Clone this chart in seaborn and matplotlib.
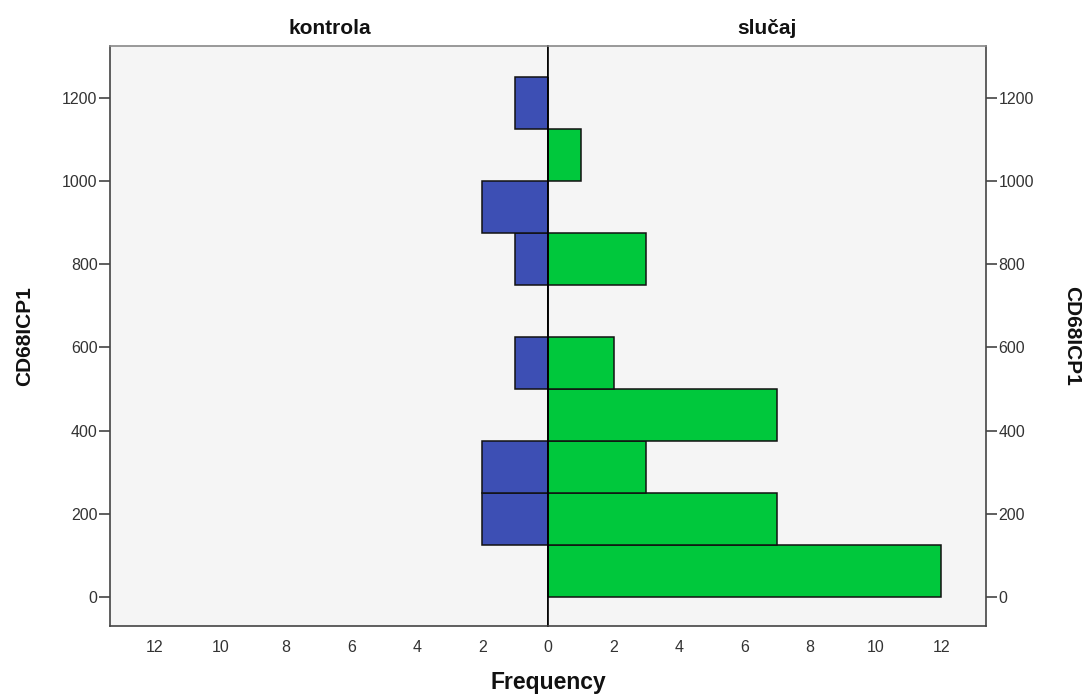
import numpy as np
import pandas as pd
import seaborn as sns
import matplotlib.pyplot as plt

# histogram bins of CD68ICP1 (width 125), counts per group
bin_edges = [0, 125, 250, 375, 500, 625, 750, 875, 1000, 1125, 1250]
kontrola_counts = [0, 2, 2, 0, 1, 0, 1, 2, 0, 1]
slucaj_counts = [12, 7, 3, 7, 2, 0, 3, 0, 1, 0]
freq_ticks = [0, 2, 4, 6, 8, 10, 12]
value_ticks = [0, 200, 400, 600, 800, 1000, 1200]

sns.set_style("white")
plt.rcParams['font.family'] = ['Liberation Sans', 'DejaVu Sans']

blue = '#3D4FB4'
green = '#00C83C'
bg = '#F5F5F5'

centers = [(a + b) / 2 for a, b in zip(bin_edges[:-1], bin_edges[1:])]
df = pd.DataFrame({'value': centers, 'kontrola': kontrola_counts, 'slucaj': slucaj_counts})

fig = plt.figure(figsize=(10.86, 6.95), dpi=100)
ax_l = fig.add_axes([110 / 1086, 1 - 626 / 695, 438 / 1086, 580 / 695])
ax_r = fig.add_axes([548 / 1086, 1 - 626 / 695, 438 / 1086, 580 / 695], sharey=ax_l)

sns.histplot(data=df, y='value', weights='kontrola', bins=bin_edges, ax=ax_l,
             color=blue, edgecolor='#111111', linewidth=1.1, alpha=1)
sns.histplot(data=df, y='value', weights='slucaj', bins=bin_edges, ax=ax_r,
             color=green, edgecolor='#111111', linewidth=1.1, alpha=1)

xmax = 13.37
ax_l.set_xlim(xmax, 0)
ax_r.set_xlim(0, xmax)
ax_l.set_ylim(-70, 1325)

for ax in (ax_l, ax_r):
    ax.set_facecolor(bg)
    ax.set_xticks(freq_ticks)
    ax.set_xlabel('')
    ax.set_ylabel('')
    for s in ax.spines.values():
        s.set_color('#444444')
        s.set_linewidth(1.2)
    ax.spines['top'].set_color('#888888')
    ax.tick_params(axis='both', direction='out', length=8, width=1.2,
                   color='#444444', labelsize=11.5, labelcolor='#333333', pad=1)
    ax.tick_params(axis='x', length=7, pad=3)

ax_l.set_xticklabels([''] + [str(t) for t in freq_ticks[1:]])
ax_r.set_xticklabels([str(t) for t in freq_ticks])
ax_l.set_yticks(value_ticks)
ax_l.set_yticklabels([str(t) for t in value_ticks])
ax_l.tick_params(axis='y', left=True, labelleft=True)
ax_r.tick_params(axis='y', left=False, labelleft=False, right=True, labelright=True)
ax_l.spines['right'].set_color('black')
ax_r.spines['left'].set_color('black')

fig.text(330 / 1086, 1 - 28 / 695, 'kontrola', ha='center', va='center',
         fontsize=15, fontweight='bold', color='#111111')
fig.text(767 / 1086, 1 - 28 / 695, 'slučaj', ha='center', va='center',
         fontsize=15, fontweight='bold', color='#111111')
fig.text(25 / 1086, 1 - 336 / 695, 'CD68ICP1', ha='center', va='center',
         rotation=90, fontsize=15, fontweight='bold', color='#111111')
fig.text(1072 / 1086, 1 - 336 / 695, 'CD68ICP1', ha='center', va='center',
         rotation=-90, fontsize=15, fontweight='bold', color='#111111')
fig.text(548 / 1086, 1 - 683 / 695, 'Frequency', ha='center', va='center',
         fontsize=16.5, fontweight='bold', color='#111111')

fig.savefig('out.png', dpi=100, facecolor='white')
